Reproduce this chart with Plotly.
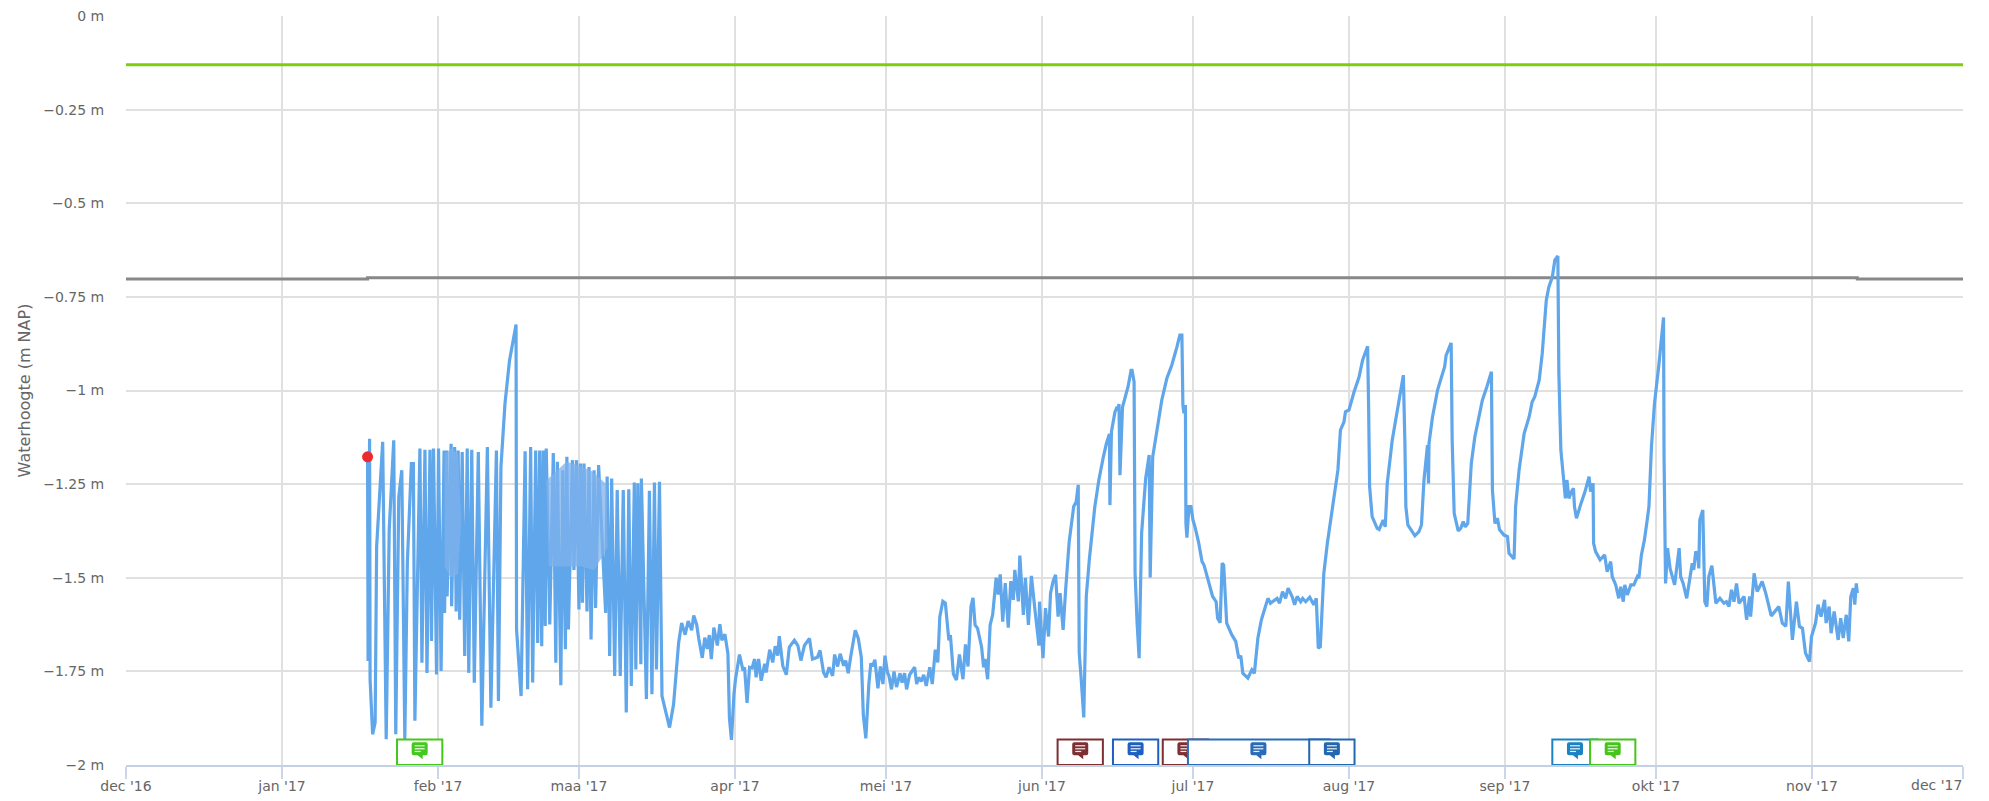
import pandas as pd
import plotly.graph_objects as go

# All x values are days since 1 Dec 2016
START = pd.Timestamp("2016-12-01")

month_days = [0, 31, 62, 90, 121, 151, 182, 212, 243, 274, 304, 335, 365]
month_labels = ["dec '16", "jan '17", "feb '17", "maa '17", "apr '17", "mei '17", "jun '17",
                "jul '17", "aug '17", "sep '17", "okt '17", "nov '17", "dec '17"]
level_ticks = [0, -0.25, -0.5, -0.75, -1, -1.25, -1.5, -1.75, -2]
level_labels = ["0 m", "−0.25 m", "−0.5 m", "−0.75 m", "−1 m", "−1.25 m", "−1.5 m", "−1.75 m", "−2 m"]

winter = [(48.0,-1.177),(48.1,-1.722),(48.4,-1.129),(48.5,-1.771),(49.0,-1.918),(49.5,-1.887),(49.8,-1.417),
(50.5,-1.257),(51.0,-1.137),(51.7,-1.931),(52.3,-1.372),(53.2,-1.133),(53.6,-1.918),(54.2,-1.284),(54.8,-1.213),
(55.4,-1.931),(55.9,-1.461),(56.7,-1.195),(57.1,-1.195),(57.4,-1.882),(58.4,-1.155),(58.8,-1.727),(59.4,-1.158),
(59.8,-1.754),(60.4,-1.158),(60.7,-1.669),(61.1,-1.155),(61.7,-1.758),(62.1,-1.155),(62.6,-1.749),(63.2,-1.16),
(63.3,-1.594),(63.7,-1.16),(63.8,-1.55),(64.6,-1.142),(64.7,-1.576),(65.3,-1.151),(65.6,-1.59),(66.0,-1.16),
(66.3,-1.612),(66.8,-1.164),(67.3,-1.709),(67.8,-1.155),(68.1,-1.754),(68.7,-1.158),(69.2,-1.78),(70.0,-1.164),
(70.7,-1.895),(71.8,-1.151),(72.5,-1.847),(73.6,-1.16),(74.0,-1.829),(74.5,-1.204),(75.3,-1.035),(76.2,-0.92),
(77.5,-0.824),(77.6,-1.638),(78.5,-1.816),(79.3,-1.162),(79.8,-1.798),(80.4,-1.151),(80.8,-1.78),(81.4,-1.16),
(81.8,-1.674),(82.2,-1.16),(82.6,-1.683),(82.9,-1.16),(83.3,-1.629),(83.5,-1.155),(84.2,-1.625),(84.9,-1.167),
(85.4,-1.727),(85.7,-1.19),(86.4,-1.787),(86.8,-1.213),(87.3,-1.691),(87.6,-1.177),(87.9,-1.638),(88.7,-1.186),
(89.0,-1.479),(89.5,-1.186),(90.0,-1.585),(90.3,-1.195),(90.7,-1.567),(91.0,-1.195),(91.6,-1.59),(92.0,-1.204),
(92.4,-1.665),(93.0,-1.213),(93.3,-1.581),(93.9,-1.199),(95.3,-1.594),(95.6,-1.23),(96.1,-1.709),(96.5,-1.235),
(97.1,-1.762),(97.6,-1.266),(98.2,-1.762),(98.8,-1.266),(99.4,-1.86),(99.9,-1.264),(100.4,-1.789),(101.0,-1.246),
(101.3,-1.745),(101.7,-1.248),(102.3,-1.731),(102.4,-1.235),(103.4,-1.824),(104.0,-1.268),(104.5,-1.811),
(105.0,-1.246),(105.4,-1.745),(106.0,-1.244),(106.5,-1.816),(107.1,-1.851),(108.0,-1.9),(108.8,-1.838),
(109.8,-1.674),(110.4,-1.621),(111.1,-1.652),(111.7,-1.616)]

spring = [(112.4,-1.64),(112.8,-1.601),(113.4,-1.626),(113.8,-1.662),(114.5,-1.714),(115.0,-1.66),(115.5,-1.69),
(115.9,-1.653),(116.3,-1.717),(116.8,-1.633),(117.5,-1.681),(118.0,-1.624),(118.4,-1.667),(119.0,-1.651),
(119.6,-1.703),(119.9,-1.875),(120.3,-1.933),(120.8,-1.811),(121.1,-1.771),(121.9,-1.705),(122.6,-1.748),
(122.9,-1.739),(123.4,-1.834),(123.9,-1.739),(124.4,-1.741),(124.9,-1.717),(125.2,-1.766),(125.7,-1.717),
(126.2,-1.775),(126.9,-1.73),(127.2,-1.753),(127.9,-1.692),(128.5,-1.726),(129.0,-1.683),(129.5,-1.708),
(129.8,-1.656),(130.5,-1.735),(131.2,-1.759),(131.8,-1.685),(132.8,-1.667),(133.5,-1.681),(134.1,-1.721),
(134.8,-1.681),(135.8,-1.662),(136.4,-1.717),(137.4,-1.712),(137.9,-1.694),(138.6,-1.753),(139.1,-1.766),
(139.7,-1.739),(140.4,-1.762),(140.8,-1.705),(141.4,-1.737),(141.9,-1.703),(142.6,-1.735),(143.0,-1.721),
(143.5,-1.755),(144.0,-1.71),(144.9,-1.64),(145.5,-1.662),(146.1,-1.712),(146.5,-1.866),(147.0,-1.929),
(147.6,-1.784),(148.0,-1.728),(148.3,-1.737),(148.8,-1.719),(149.4,-1.795),(149.9,-1.737),(150.4,-1.784),
(150.8,-1.708),(151.3,-1.753),(151.6,-1.762),(152.1,-1.798),(152.6,-1.75),(153.1,-1.792),(153.8,-1.755),
(154.2,-1.78),(154.7,-1.755),(155.1,-1.798),(155.7,-1.759),(156.7,-1.739),(157.1,-1.784),(157.5,-1.766),
(158.0,-1.777),(158.5,-1.759),(159.0,-1.789),(159.7,-1.739),(160.2,-1.784),(160.8,-1.692),(161.3,-1.726),
(161.7,-1.604),(162.3,-1.563),(162.8,-1.568),(163.5,-1.667),(163.8,-1.653),(164.4,-1.757),(165.0,-1.773),
(165.6,-1.705),(166.3,-1.771),(166.8,-1.678),(167.3,-1.737),(167.9,-1.577),(168.3,-1.554),(168.7,-1.626),
(169.2,-1.635),(170.0,-1.685),(170.4,-1.739),(170.7,-1.717),(171.2,-1.771),(171.7,-1.626),(172.2,-1.599),
(172.9,-1.5),(173.3,-1.545),(173.7,-1.491),(174.2,-1.617),(174.7,-1.514),(175.3,-1.633),(175.8,-1.509),
(176.3,-1.559),(176.6,-1.479),(177.3,-1.563),(177.6,-1.441),(178.3,-1.599),(178.7,-1.5),(179.3,-1.626),
(179.9,-1.495),(180.6,-1.586),(181.4,-1.681)]

summer = [(181.5,-1.564),(182.2,-1.715),(182.7,-1.581),(183.3,-1.657),(183.7,-1.541),(184.2,-1.51),(184.7,-1.492),
(185.2,-1.604),(185.6,-1.541),(186.2,-1.639),(186.7,-1.532),(187.4,-1.404),(188.3,-1.31),(188.8,-1.297),
(189.2,-1.252),(189.4,-1.701),(189.8,-1.772),(190.3,-1.873),(190.8,-1.55),(191.4,-1.452),(192.5,-1.31),
(193.3,-1.239),(194.2,-1.177),(194.8,-1.141),(195.4,-1.116),(195.5,-1.306),(195.8,-1.11),(196.5,-1.057),
(196.8,-1.048),(197.1,-1.052),(197.3,-1.036),(197.5,-1.226),(198.0,-1.044),(198.7,-1.008),(199.1,-0.99),
(199.7,-0.946),(199.9,-0.946),(200.3,-0.977),(200.5,-1.488),(200.9,-1.621),(201.3,-1.715),(201.8,-1.381),
(202.6,-1.235),(203.3,-1.172),(203.5,-1.499),(204.0,-1.177),(204.8,-1.106),(205.8,-1.026),(206.8,-0.968),
(207.8,-0.932),(208.8,-0.884),(209.4,-0.852),(209.8,-0.852),(210.0,-1.039),(210.2,-1.061),(210.5,-1.039),
(210.6,-1.355),(210.8,-1.393),(211.2,-1.31),(211.6,-1.31),(212.0,-1.346),(212.4,-1.364),(213.1,-1.404),
(213.8,-1.457),(214.2,-1.466),(215.1,-1.51),(215.9,-1.55),(216.6,-1.564),(216.9,-1.608),(217.4,-1.62),
(217.8,-1.461),(218.1,-1.466),(218.7,-1.621),(219.7,-1.652),(220.5,-1.67),(221.1,-1.715),(221.5,-1.708),
(221.9,-1.755),(222.9,-1.768),(223.7,-1.746),(224.2,-1.755),(224.9,-1.661),(225.6,-1.612),(226.4,-1.577),
(226.9,-1.555),(227.4,-1.568),(228.7,-1.555),(229.2,-1.568),(229.8,-1.537),(230.4,-1.555),(230.9,-1.528),
(231.7,-1.55),(232.2,-1.572),(232.7,-1.55),(233.4,-1.564),(233.8,-1.555),(234.4,-1.564),(235.2,-1.552),
(236.0,-1.572),(236.5,-1.555),(236.9,-1.688),(237.3,-1.684),(238.0,-1.488),(238.7,-1.408),(239.7,-1.319),
(240.8,-1.212),(241.3,-1.106),(242.0,-1.084),(242.3,-1.057),(243.0,-1.052),(244.0,-1.004),(245.0,-0.964),
(245.7,-0.919),(246.7,-0.882),(246.9,-1.044),(247.1,-1.257),(247.6,-1.337),(248.6,-1.368),(249.0,-1.371),
(249.8,-1.346),(250.2,-1.364),(250.6,-1.248),(251.6,-1.132),(253.0,-1.017)]

autumn = [(253.8,-0.959),(254.1,-1.132),(254.3,-1.31),(254.7,-1.359),(255.6,-1.377),(256.1,-1.388),(256.9,-1.377),
(257.4,-1.359),(257.9,-1.239),(258.6,-1.146),(258.8,-1.248),(258.9,-1.141),(259.6,-1.07),(260.6,-0.999),
(261.2,-0.972),(262.0,-0.937),(262.3,-0.906),(263.3,-0.873),(263.5,-1.132),(263.9,-1.328),(264.7,-1.375),
(265.2,-1.368),(265.7,-1.35),(266.1,-1.364),(266.6,-1.355),(267.3,-1.195),(268.0,-1.124),(268.8,-1.066),
(269.5,-1.026),(270.4,-0.99),(271.3,-0.95),(271.5,-1.266),(272.0,-1.355),(272.5,-1.341),(272.9,-1.371),
(273.8,-1.386),(274.5,-1.39),(274.8,-1.435),(275.8,-1.45),(276.1,-1.31),(276.8,-1.212),(277.8,-1.115),
(278.8,-1.07),(279.4,-1.03),(279.9,-1.017),(280.8,-0.972),(281.4,-0.901),(282.2,-0.759),(282.7,-0.724),
(283.4,-0.697),(283.9,-0.652),(284.5,-0.641),(284.7,-0.955),(285.1,-1.159),(285.7,-1.239),(286.0,-1.288),
(286.3,-1.239),(286.7,-1.288),(287.2,-1.27),(287.6,-1.261),(287.8,-1.31),(288.2,-1.341),(289.0,-1.306),
(289.9,-1.27),(290.7,-1.23),(291.0,-1.27),(291.5,-1.248),(291.6,-1.408),(292.0,-1.43),(292.9,-1.452),
(293.8,-1.439),(294.3,-1.484),(295.0,-1.457),(295.3,-1.497),(296.0,-1.519),(296.6,-1.555),(297.0,-1.524),
(297.5,-1.564),(297.8,-1.519),(298.3,-1.546),(299.0,-1.519),(299.6,-1.519),(300.3,-1.497),(300.6,-1.501),
(301.1,-1.439),(301.7,-1.399),(302.3,-1.341),(302.6,-1.31),(303.1,-1.15),(303.7,-1.035),(304.6,-0.928),
(305.5,-0.805),(305.6,-1.177),(305.9,-1.515),(306.3,-1.421),(306.8,-1.475),(307.7,-1.519),(308.6,-1.421),
(308.9,-1.497),(309.4,-1.515),(310.1,-1.555),(310.8,-1.488),(311.2,-1.461),(311.5,-1.479),(311.9,-1.43),
(312.3,-1.439),(312.5,-1.475),(312.7,-1.346),(313.3,-1.319),(313.7,-1.564),(314.1,-1.577),(314.5,-1.497),
(315.1,-1.468),(315.9,-1.568),(316.7,-1.555),(317.5,-1.568),(318.0,-1.564),(318.5,-1.577),(319.0,-1.532),
(319.5,-1.564),(320.0,-1.515),(320.5,-1.568),(321.5,-1.55),(322.0,-1.612),(322.6,-1.55),(322.8,-1.604),
(323.5,-1.488),(324.1,-1.537),(325.1,-1.51),(325.8,-1.541),(326.9,-1.602),(328.4,-1.577),(329.1,-1.621),
(329.8,-1.63),(330.3,-1.51),(331.1,-1.666),(331.9,-1.564),(332.5,-1.63),(333.1,-1.635),(333.7,-1.701),
(334.5,-1.724),(334.9,-1.657),(335.7,-1.621),(336.2,-1.572),(336.8,-1.604),(337.5,-1.559),(337.8,-1.621),
(338.4,-1.577),(338.8,-1.648),(339.4,-1.59),(340.2,-1.666),(340.7,-1.608),(341.2,-1.661),(341.8,-1.599),
(342.3,-1.67),(342.7,-1.55),(343.2,-1.528),(343.5,-1.572),(343.8,-1.515),(344.0,-1.541)]

dense_band_a = [(63.3,-1.17),(64.6,-1.155),(66.0,-1.17),(66.6,-1.35),(66.0,-1.49),(64.5,-1.5),(63.3,-1.47)]
dense_band_b = [(83.5,-1.24),(87.5,-1.19),(90.0,-1.2),(92.5,-1.215),(95.5,-1.25),(95.7,-1.42),(93.0,-1.48),
                (90.5,-1.47),(88.5,-1.47),(86.5,-1.47),(84.0,-1.47)]

upper_limit_days = [0, 365]
upper_limit_levels = [-0.13, -0.13]
lower_limit_days = [0, 48, 48, 344, 344, 365]
lower_limit_levels = [-0.702, -0.702, -0.699, -0.699, -0.702, -0.702]
first_point = (48.0, -1.177)

# note flags: first day, last day, icon day, colour (later ones drawn on top)
flags = [
    (53.85, 62.85, 58.35, "#43c91b"),
    (185.1, 194.1, 189.6, "#7e2f33"),
    (196.1, 205.1, 200.6, "#1f5fbf"),
    (206.0, 215.0, 210.5, "#7e2f33"),
    (211.0, 239.1, 225.0, "#2a6cb8"),
    (235.1, 244.1, 239.6, "#2267b0"),
    (283.4, 292.4, 287.9, "#1b82c4"),
    (290.9, 299.9, 295.4, "#45c41a"),
]
FLAG_BOTTOM, FLAG_TOP, ICON_LEVEL = -2.0, -1.932, -1.966


def dates(days):
    return START + pd.to_timedelta(list(days), unit="D")


def xy(pairs):
    return dates(p[0] for p in pairs), [p[1] for p in pairs]


fig = go.Figure()
fig.add_trace(go.Scatter(x=dates(upper_limit_days), y=upper_limit_levels, mode="lines",
                         line=dict(color="#80cc10", width=3)))
fig.add_trace(go.Scatter(x=dates(lower_limit_days), y=lower_limit_levels, mode="lines",
                         line=dict(color="#888888", width=3)))
lx, ly = xy(winter + spring + summer + autumn)
fig.add_trace(go.Scatter(x=lx, y=ly, mode="lines", line=dict(color="#5fa6ea", width=3.2)))
for band in (dense_band_a, dense_band_b):
    bx, by = xy(band)
    fig.add_trace(go.Scatter(x=bx, y=by, mode="lines", fill="toself", fillcolor="rgba(125,178,235,0.75)",
                             line=dict(width=0)))
fig.add_trace(go.Scatter(x=dates([first_point[0]]), y=[first_point[1]], mode="markers",
                         marker=dict(color="#ee2a2e", size=11)))

BUBBLE = ("M -8 8 Q -8 10 -6 10 L 6 10 Q 8 10 8 8 L 8 -1 Q 8 -3 6 -3 L 3 -3 L 3 -7 L -2 -3 L -6 -3 "
          "Q -8 -3 -8 -1 Z")
TEXT_LINES = ["M -5 6.5 L 5 6.5", "M -5 3.5 L 5 3.5", "M -5 0.8 L 1 0.8"]
shapes = []
for first, last, icon, colour in flags:
    x0, x1 = dates([first, last])
    xi = dates([icon])[0]
    shapes.append(dict(type="rect", xref="x", yref="y", x0=x0, x1=x1, y0=FLAG_BOTTOM, y1=FLAG_TOP,
                       fillcolor="white", line=dict(color=colour, width=2), layer="above"))
    shapes.append(dict(type="path", xref="x", yref="y", xsizemode="pixel", ysizemode="pixel",
                       xanchor=xi, yanchor=ICON_LEVEL, path=BUBBLE, fillcolor=colour,
                       line=dict(width=0), layer="above"))
    for tl in TEXT_LINES:
        shapes.append(dict(type="path", xref="x", yref="y", xsizemode="pixel", ysizemode="pixel",
                           xanchor=xi, yanchor=ICON_LEVEL, path=tl,
                           line=dict(color="rgba(255,255,255,0.9)", width=1.2), layer="above"))

FONT = dict(family="DejaVu Sans", size=14, color="#666666")
tick_labels = month_labels[:-1] + [""]
fig.update_layout(
    width=1989, height=801, showlegend=False, plot_bgcolor="white", paper_bgcolor="white",
    margin=dict(l=125.5, r=25.5, t=15.5, b=36, autoexpand=False), font=FONT, shapes=shapes,
    xaxis=dict(automargin=False, range=list(dates([0, 365])), tickmode="array", tickvals=list(dates(month_days)),
               ticktext=tick_labels, showgrid=True, gridcolor="#e0e0e0", gridwidth=2,
               ticks="outside", ticklen=12, tickwidth=2, tickcolor="#ccd6eb", zeroline=False,
               showline=True, linecolor="#c3d1e4", linewidth=2, tickangle=0, tickfont=FONT,
               ticklabelstandoff=-5),
    yaxis=dict(automargin=False, range=[-2, 0], tickmode="array", tickvals=level_ticks, ticktext=level_labels,
               showgrid=True, gridcolor="#e0e0e0", gridwidth=2, ticks="outside", ticklen=18,
               tickcolor="rgba(0,0,0,0)", zeroline=False, showline=False, tickfont=FONT,
               title=dict(text="Waterhoogte (m NAP)", font=dict(family="DejaVu Sans", size=16, color="#666666"),
                          standoff=8)),
    annotations=[dict(text=month_labels[-1], xref="x", yref="paper", x=dates([365])[0], y=0,
                      xanchor="right", yanchor="top", yshift=-10, showarrow=False, font=FONT,
                      xshift=1)],
)
fig.write_html("out.html", config={"displayModeBar": False},
               post_script="document.body.style.margin='0';")
